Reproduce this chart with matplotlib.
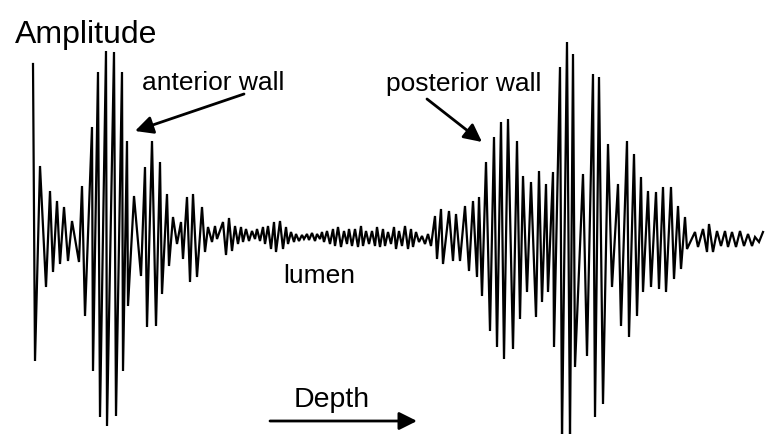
import numpy as np
import matplotlib
matplotlib.use('Agg')
import matplotlib.pyplot as plt

plt.rcParams['font.family'] = ['Liberation Sans', 'DejaVu Sans']

# Echo-Signal, abgelesene Extremwerte (Tiefe, Amplitude)
# vordere Wand
anterior_depth = [33, 35, 40, 46, 50, 53, 57, 60, 64, 68, 72, 79, 82, 85, 92, 93, 98, 100, 106, 107,
                  114, 116, 122, 123, 127, 128, 134, 141, 145, 147, 152, 156, 160, 162, 167, 169, 173, 177, 181, 183,
                  187, 190, 193, 197, 202, 205, 208, 212, 215, 217]
anterior_amp = [173, -124, 71, -50, 46, -35, 36, -27, 30, -24, 16, -25, 51, -79, 110, -134, 165, -180, 186, -189,
                185, -179, 165, -134, 96, -69, 41, -39, 70, -90, 96, -89, 75, -57, 43, -29, 20, -7, 15, -22,
                40, -45, 43, -40, 30, -15, 10, -5, 11, -2]

# Lumen
lumen_depth = [223, 226, 229, 232, 235, 238, 241, 243, 246, 249, 252, 255, 257, 260, 263, 265, 268, 271, 274, 276,
               280, 283, 286, 288, 291, 294, 296, 299, 302, 304, 307, 309, 312, 315, 317, 320, 322, 324, 327, 330,
               333, 335, 338, 341, 344, 347, 349, 352, 355, 358, 361, 363, 366, 369, 372, 375, 377, 380, 383, 385,
               388, 391, 394, 396, 399, 402, 405, 408, 411, 413, 416, 419, 422, 425, 428, 431]
lumen_amp = [15, -18, 19, -14, 11, -7, 10, -5, 8, -4, 6, -2, 8, -4, 10, -7, 11, -12, 15, -15,
             16, -12, 10, -7, 5, -5, 3, -4, 2, -2, 3, -3, 4, -4, 3, -2, 5, -5, 6, -7,
             8, -9, 10, -10, 6, -7, 8, -9, 8, -10, 11, -9, 6, -7, 6, -9, 10, -10, 8, -9,
             5, -7, 10, -12, 6, -9, 11, -12, 8, -10, 5, -5, 1, -7, 3, -9]

# hintere Wand
posterior_depth = [435, 437, 441, 443, 449, 453, 456, 460, 465, 469, 473, 477, 479, 482, 486, 490, 494, 497, 501, 504,
                   508, 513, 517, 520, 523, 527, 531, 536, 539, 542, 546, 548, 553, 554, 560, 562, 567, 570, 573, 575,
                   583, 587, 593, 595, 599, 603, 608, 612, 618, 621, 627, 629, 634, 637, 641, 643, 648, 651, 656, 659,
                   663, 666, 671, 674, 678, 681, 685, 687, 695, 698, 703, 707, 709, 713, 717, 721, 725, 728, 732, 736,
                   740, 744, 748, 752, 755, 759, 763]
posterior_amp = [21, -22, 28, -27, 26, -24, 23, -24, 31, -34, 36, -40, 40, -59, 75, -94, 100, -110, 115, -122,
                 118, -112, 96, -82, 61, -55, 55, -80, 66, -65, 53, -55, 65, -110, 170, -202, 195, -202, 183, -130,
                 63, -119, 163, -180, 160, -167, 93, -50, 53, -89, 96, -100, 83, -79, 60, -55, 46, -50, 45, -52,
                 50, -55, 50, -42, 31, -32, 20, -12, 5, -10, 8, -15, 13, -15, 6, -9, 6, -10, 5, -10,
                 6, -9, 3, -9, 0, -5, 5]

depth = np.concatenate([anterior_depth, lumen_depth, posterior_depth])
amp = np.concatenate([anterior_amp, lumen_amp, posterior_amp])

fig = plt.figure(figsize=(7.65, 4.35), dpi=100)
ax = fig.add_axes([0, 0, 1, 1])
ax.plot(depth, amp, color='black', lw=1.6, solid_joinstyle='miter')
ax.set_xlim(0, 765)
ax.set_ylim(-197, 238)
ax.axis('off')

ax.text(15, 195, 'Amplitude', fontsize=23, va='baseline', ha='left')
ax.text(142, 148, 'anterior wall', fontsize=19, va='baseline', ha='left')
ax.text(386, 147, 'posterior wall', fontsize=19, va='baseline', ha='left')
ax.text(283, -45, 'lumen', fontsize=19, va='baseline', ha='left')
ax.text(294, -169, 'Depth', fontsize=20.5, va='baseline', ha='left')

pfeil = dict(arrowstyle='-|>,head_length=0.4,head_width=0.2', color='black', lw=2,
             mutation_scale=27, shrinkA=0, shrinkB=0)
ax.annotate('', xy=(135, 106), xytext=(244, 143), arrowprops=pfeil)
ax.annotate('', xy=(482, 95), xytext=(427, 138), arrowprops=pfeil)
ax.annotate('', xy=(417, -184), xytext=(270, -184), arrowprops=pfeil)

plt.savefig('out.png', dpi=100)
